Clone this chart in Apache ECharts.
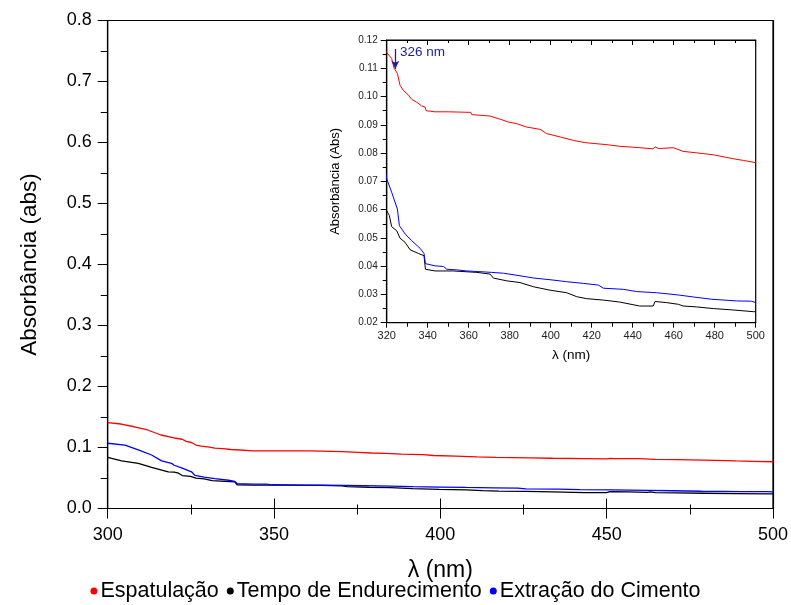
<!DOCTYPE html>
<html><head><meta charset="utf-8">
<script src="https://cdn.jsdelivr.net/npm/echarts@6/dist/echarts.min.js"></script>
<style>html,body{margin:0;padding:0;background:#fff}#c{width:791px;height:605px}</style>
</head><body><div id="c"></div>
<script>
const seriesNames = ['Espatulação', 'Tempo de Endurecimento', 'Extração do Cimento'];
const redX = [300,304,308,312,316,320,322.4,323.6,325.2,326.5,328.1,330.6,332.2,334.6,337,338.7,339.2,343.6,350,361,361.5,370.4,375.3,379.3,383.4,388.3,394.8,398,404.6,411,416.7,427,433.7,443.4,450,451,452.5,459.8,464.6,471,479.3,489,494,500];
const redY = [0.1407,0.1385,0.134,0.1287,0.1205,0.1156,0.1135,0.110,0.1082,0.104,0.1022,0.1005,0.099,0.098,0.0967,0.0963,0.095,0.0946,0.0946,0.0944,0.0936,0.0931,0.092,0.091,0.0904,0.0892,0.0884,0.0869,0.0857,0.0845,0.0837,0.083,0.0824,0.0819,0.0815,0.0822,0.0816,0.0819,0.0806,0.0801,0.0794,0.078,0.0774,0.0766];
const blackX = [300,304.2,309.2,313.2,318.2,320,321.3,322.4,324.9,326.5,329,331.4,335.4,338.2,338.9,343.6,352.5,364,370.4,372,378.6,385,391.7,399.7,407.8,412.7,417.6,425.7,433.7,443.4,450,450.9,456.6,462.3,463.1,464.6,471,479.3,489,498.9,500];
const blackY = [0.084,0.078,0.074,0.0675,0.060,0.0596,0.0579,0.054,0.0525,0.0499,0.0484,0.0458,0.0445,0.0437,0.0389,0.0383,0.0383,0.0378,0.0372,0.0358,0.0348,0.0342,0.0327,0.0315,0.0306,0.0292,0.0285,0.028,0.0273,0.0259,0.0259,0.0275,0.0271,0.0265,0.0271,0.0259,0.0256,0.025,0.0245,0.0239,0.0239];
const blueX = [300,305.2,309.2,313.2,316.2,319.2,320,322.4,325.2,326.2,329,332.2,336.3,338.2,338.9,343.6,347.7,349.3,354,359,364.7,371.1,377,385,391.7,399.7,407.8,416,423.3,425.7,435.4,442,451.7,462.3,469.6,478.5,490.7,498,500];
const blueY = [0.107,0.104,0.096,0.0877,0.078,0.074,0.0709,0.0662,0.0602,0.0543,0.0514,0.049,0.0463,0.0445,0.0409,0.0401,0.0399,0.0389,0.0387,0.0383,0.0381,0.0378,0.0375,0.0366,0.0358,0.0352,0.0345,0.0339,0.0333,0.0322,0.0318,0.031,0.0306,0.0298,0.0291,0.0283,0.0277,0.0276,0.0271];
const annotationText = '326 nm';
const annotationX = 324.2;

const colors = ['#ff0000', '#000000', '#0000ff'];
const zip = (xs, ys) => xs.map((x, i) => [x, ys[i]]);
const data = [zip(redX, redY), zip(blackX, blackY), zip(blueX, blueY)];
const FONT = "'Liberation Sans', Arial, sans-serif";

const chart = echarts.init(document.getElementById('c'));
const series = [];
[0, 1, 2].forEach(i => {
  series.push({
    name: seriesNames[i], type: 'line', xAxisIndex: 0, yAxisIndex: 0,
    data: data[i], showSymbol: false, symbol: 'none',
    lineStyle: { color: colors[i], width: 1.3 }, itemStyle: { color: colors[i] }
  });
});
[0, 1, 2].forEach(i => {
  const s = {
    name: seriesNames[i], type: 'line', xAxisIndex: 2, yAxisIndex: 2,
    data: data[i], showSymbol: false, symbol: 'none', clip: true,
    lineStyle: { color: colors[i], width: 1 }, itemStyle: { color: colors[i] }
  };
  if (i === 0) {
    s.markLine = {
      silent: true, symbol: ['none', 'arrow'], symbolSize: [6, 8],
      lineStyle: { color: '#1c1ca0', width: 1.3, type: 'solid' },
      label: { show: false },
      data: [[{ coord: [annotationX, 0.1168] }, { coord: [annotationX, 0.1098] }]]
    };
    s.markPoint = {
      silent: true, symbol: 'circle', symbolSize: 0,
      label: { show: true, position: 'right', distance: 2, formatter: annotationText,
               color: '#1c1ca0', fontSize: 13.5, fontFamily: FONT },
      data: [{ coord: [annotationX + 1.3, 0.1156] }]
    };
  }
  series.push(s);
});

chart.setOption({
  animation: false,
  backgroundColor: '#fff',
  textStyle: { fontFamily: FONT },
  legend: {
    top: 580, left: 'center', itemGap: 8, itemWidth: 7, itemHeight: 7, padding: 0,
    icon: 'circle',
    data: seriesNames.map((n, i) => ({ name: n, itemStyle: { color: colors[i] } })),
    textStyle: { fontSize: 21.5, color: '#000', fontFamily: FONT, padding: [0, 0, 0, -2] }
  },
  grid: [
    { left: 107.7, top: 20.5, right: 17, bottom: 96.5, show: true, borderColor: '#000', borderWidth: 1.2, backgroundColor: 'transparent' },
    { left: 386.7, top: 40, right: 35.3, bottom: 282.3, show: true, borderColor: '#000', borderWidth: 1.2, backgroundColor: '#fff' }
  ],
  xAxis: [
    { gridIndex: 0, type: 'value', min: 300, max: 500, interval: 50, position: 'bottom',
      name: 'λ (nm)', nameLocation: 'middle', nameGap: 51,
      nameTextStyle: { fontSize: 23, color: '#000', fontFamily: FONT },
      axisLine: { lineStyle: { color: '#000', width: 1.2 } },
      axisTick: { inside: false, length: 10, lineStyle: { color: '#000' } },
      minorTick: { show: true, splitNumber: 2, length: 6, lineStyle: { color: '#000' } },
      axisLabel: { fontSize: 18, color: '#000', margin: 18 },
      splitLine: { show: false } },
    { gridIndex: 0, type: 'value', min: 300, max: 500, interval: 50, position: 'top',
      axisLine: { lineStyle: { color: '#000', width: 1.2 } },
      axisTick: { inside: false, length: 10, lineStyle: { color: '#000' } },
      minorTick: { show: true, splitNumber: 2, length: 4, lineStyle: { color: '#000' } },
      axisLabel: { show: false }, splitLine: { show: false } },
    { gridIndex: 1, type: 'value', min: 320, max: 500, interval: 20, position: 'bottom',
      name: 'λ (nm)', nameLocation: 'middle', nameGap: 26,
      nameTextStyle: { fontSize: 13.5, color: '#000', fontFamily: FONT },
      axisLine: { lineStyle: { color: '#000', width: 1.2 } },
      axisTick: { inside: false, length: 5, lineStyle: { color: '#000' } },
      minorTick: { show: true, splitNumber: 2, length: 4, lineStyle: { color: '#000' } },
      axisLabel: { fontSize: 11, color: '#222', margin: 8 },
      splitLine: { show: false } },
    { gridIndex: 1, type: 'value', min: 320, max: 500, interval: 20, position: 'top',
      axisLine: { lineStyle: { color: '#000', width: 1.2 } },
      axisTick: { inside: true, length: 5, lineStyle: { color: '#000' } },
      minorTick: { show: true, splitNumber: 2, length: 3, lineStyle: { color: '#000' } },
      axisLabel: { show: false }, splitLine: { show: false } }
  ],
  yAxis: [
    { gridIndex: 0, type: 'value', min: 0, max: 0.8, interval: 0.1,
      name: 'Absorbância (abs)', nameLocation: 'middle', nameGap: 66,
      nameTextStyle: { fontSize: 22.5, color: '#000', fontFamily: FONT },
      axisLine: { lineStyle: { color: '#000', width: 1.2 } },
      axisTick: { inside: false, length: 10, lineStyle: { color: '#000' } },
      minorTick: { show: true, splitNumber: 2, length: 7, lineStyle: { color: '#000' } },
      axisLabel: { fontSize: 18, color: '#000', margin: 16, formatter: v => v.toFixed(1) },
      splitLine: { show: false } },
    { gridIndex: 0, type: 'value', min: 0, max: 0.8, position: 'right',
      axisLine: { show: true, lineStyle: { color: '#000', width: 1.2 } },
      axisTick: { show: false }, axisLabel: { show: false }, splitLine: { show: false } },
    { gridIndex: 1, type: 'value', min: 0.02, max: 0.12, interval: 0.01,
      name: 'Absorbância (Abs)', nameLocation: 'middle', nameGap: 45,
      nameTextStyle: { fontSize: 13, color: '#000', fontFamily: FONT },
      axisLine: { lineStyle: { color: '#000', width: 1.2 } },
      axisTick: { inside: false, length: 6, lineStyle: { color: '#000' } },
      minorTick: { show: true, splitNumber: 2, length: 4, lineStyle: { color: '#000' } },
      axisLabel: { fontSize: 10, color: '#222', margin: 9, formatter: v => v.toFixed(2) },
      splitLine: { show: false } }
  ],
  series: series
});
</script></body></html>
